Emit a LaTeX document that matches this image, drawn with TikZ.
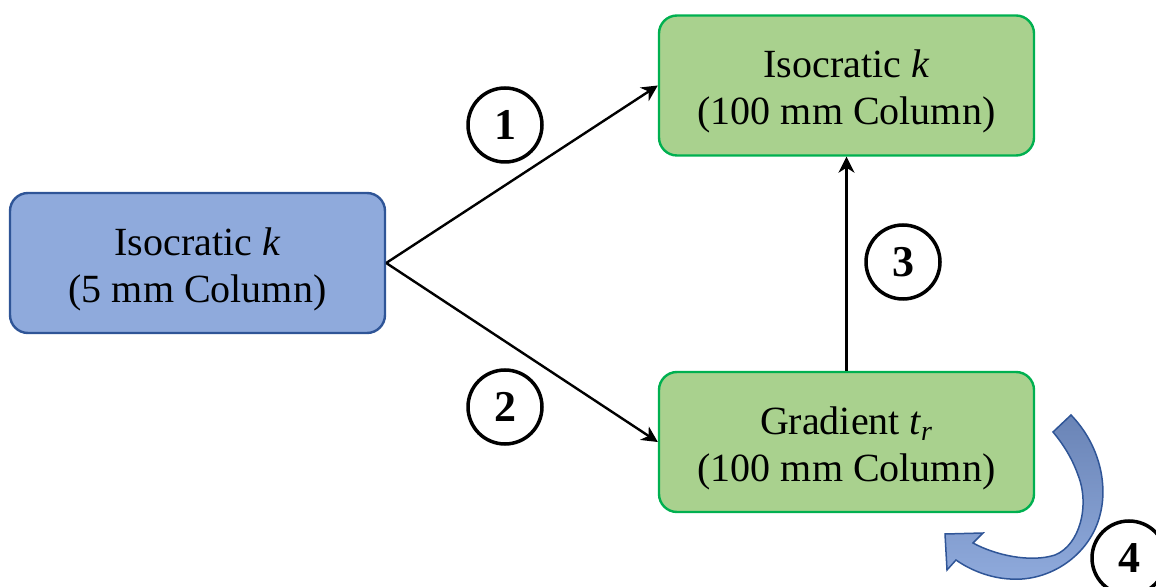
\documentclass[tikz,border=0pt]{standalone}
\usepackage{fontspec}
\setmainfont{Liberation Serif}
\usetikzlibrary{arrows.meta}
\definecolor{bluefill}{HTML}{8FAADC}
\definecolor{blueline}{HTML}{2F5597}
\definecolor{greenfill}{HTML}{A9D18E}
\definecolor{greenline}{HTML}{00B050}
\definecolor{arrtop}{HTML}{6A84B6}
\definecolor{arrbot}{HTML}{8FAADC}
\begin{document}
\begin{tikzpicture}[x=0.5pt,y=-0.5pt,
  box/.style={rounded corners=9pt, minimum width=187.5pt, minimum height=70pt,
    inner sep=0pt, line width=1.2pt},
  bluebox/.style={box, draw=blueline, fill=bluefill},
  greenbox/.style={box, draw=greenline, fill=greenfill},
  boxtext/.style={inner sep=0pt, align=center, font=\fontsize{20}{23.5}\selectfont},
  numcirc/.style={circle, draw=black, line width=1.75pt, minimum size=37pt,
    inner sep=0pt, font=\fontsize{22}{22}\selectfont\bfseries},
  conn/.style={line width=1.2pt, -{Stealth[length=8pt,width=8pt,inset=2.5pt]}}]
\useasboundingbox (0,0) rectangle (1156,587);
\node[bluebox] (a) at (197.5,263) {};
\node[greenbox] (b) at (846.5,85.5) {};
\node[greenbox] (c) at (846.5,442) {};
\node[boxtext] (at) at ([yshift=-3pt]a.center) {Isocratic \textit{k}\\(5 mm Column)};
\node[boxtext] (bt) at ([yshift=-3pt]b.center) {Isocratic \textit{k}\\(100 mm Column)};
\node[boxtext] (ct) at ([yshift=-3pt]c.center) {Gradient \textit{t\textsubscript{r}}\\(100 mm Column)};
\draw[conn] (a.east) -- (b.west);
\draw[conn] (a.east) -- (c.west);
\draw[conn] (c.north) -- (b.south);
\node[numcirc] (n1) at (505,125) {1};
\node[numcirc] (n2) at (505,407) {2};
\node[numcirc] (n3) at (903,262) {3};
\node[numcirc] (n4) at (1129,558) {4};
\shade[top color=arrtop, bottom color=arrbot, draw=blueline, line width=0.75pt, line join=miter]
  (1071,415) .. controls (1100,445) and (1108,485) .. (1100,515)
  .. controls (1090,555) and (1050,582) .. (1010,579)
  .. controls (990,578) and (970,570) .. (956,560)
  -- (947,570) -- (945,534) -- (983,533) -- (973,543)
  .. controls (995,555) and (1030,563) .. (1055,555)
  .. controls (1080,545) and (1090,505) .. (1078,475)
  .. controls (1072,458) and (1063,444) .. (1053,432) -- cycle;
\end{tikzpicture}
\end{document}
